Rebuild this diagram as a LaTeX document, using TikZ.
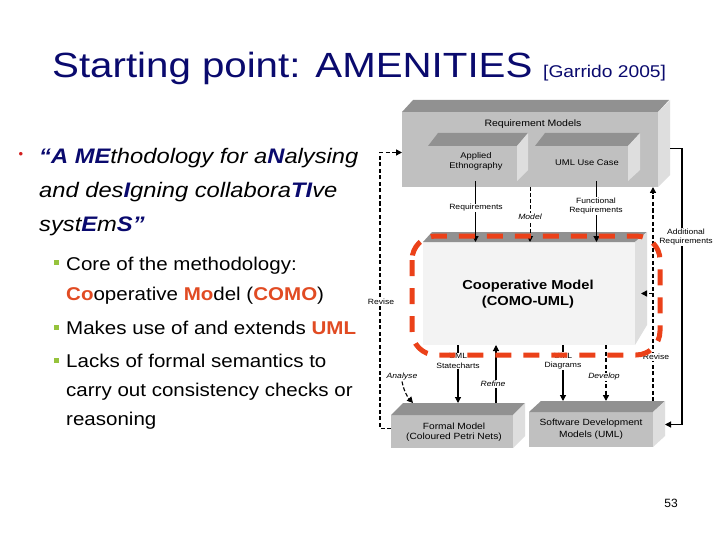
\documentclass[tikz,border=0pt]{standalone}
\usepackage{fontspec}
\setmainfont{Liberation Sans}
\usetikzlibrary{arrows.meta}
\definecolor{navy}{RGB}{10,10,110}
\definecolor{orng}{RGB}{225,75,35}
\definecolor{hired}{RGB}{235,65,25}
\definecolor{bgreen}{RGB}{150,195,60}
\definecolor{bred}{RGB}{210,30,30}
\definecolor{facegray}{RGB}{192,192,192}
\definecolor{topgray}{RGB}{145,145,145}
\definecolor{sidegray}{RGB}{222,222,222}
\definecolor{coopfront}{RGB}{243,243,243}
\newcommand\sx[2][1.13]{\scalebox{#1}[1]{#2}}
\newcommand\nb[1]{{\bfseries\color{navy}#1}}
\newcommand\ob[1]{{\bfseries\color{orng}#1}}
\begin{document}
\begin{tikzpicture}[x=1pt,y=-1pt,
  face/.style={fill=facegray, draw=none, inner sep=0pt, outer sep=0pt, anchor=north west},
  txt/.style={inner sep=0pt, anchor=base west},
  lab/.style={fill=white, inner sep=0.8pt, align=center, font=\fontsize{7.6}{9.5}\selectfont},
  boxt/.style={inner sep=0pt, align=center},
  arr/.style={line width=1.1pt, -{Triangle[length=6pt,width=6pt]}},
  darr/.style={line width=1.6pt, dash pattern=on 4pt off 2.5pt, -{Triangle[length=6pt,width=6pt]}},
  tdarr/.style={line width=0.9pt, dash pattern=on 4pt off 2pt, -{Triangle[length=6pt,width=6pt]}},
  sq/.style={fill=bgreen},
  main/.style={txt, font=\fontsize{21}{25}\selectfont\itshape},
  sub/.style={txt, font=\fontsize{18.5}{22}\selectfont}
]
\useasboundingbox (0,0) rectangle (720,540);
\fill[white] (0,0) rectangle (720,540);

% ---------- title ----------
\node[txt] (title) at (52,78) {\color{navy}\fontsize{35}{40}\selectfont\sx[1.15]{Starting point: AMENITIES}};
\node[txt] (cite) at (543,78) {\color{navy}\fontsize{17}{20}\selectfont\sx{[Garrido 2005]}};

% ---------- left text ----------
\node[inner sep=0pt] (bul) at (21,155) {\color{bred}\fontsize{13}{14}\selectfont •};
\node[main] (l1) at (39,164) {\sx{\nb{“A ME}thodology for a\nb{N}alysing}};
\node[main] (l2) at (39,198) {\sx{and des\nb{I}gning collabora\nb{TI}ve}};
\node[main] (l3) at (39,231) {\sx{syst\nb{E}m\nb{S”}}};

\fill[sq] (53.5,259.5) rectangle ++(5,5);
\node[sub] (s1a) at (66,270) {\sx[1.11]{Core of the methodology:}};
\node[sub] (s1b) at (66,300) {\sx[1.11]{\ob{Co}operative \ob{Mo}del (\ob{COMO})}};
\fill[sq] (53.5,324.5) rectangle ++(5,5);
\node[sub] (s2) at (66,334) {\sx[1.11]{Makes use of and extends \ob{UML}}};
\fill[sq] (53.5,357.5) rectangle ++(5,5);
\node[sub] (s3a) at (66,367) {\sx[1.11]{Lacks of formal semantics to}};
\node[sub] (s3b) at (66,396) {\sx[1.11]{carry out consistency checks or}};
\node[sub] (s3c) at (66,425) {\sx[1.11]{reasoning}};

% ---------- Requirement Models box ----------
\node[face, minimum width=256pt, minimum height=75pt] (rm) at (402,112) {};
\fill[topgray] (rm.north west) -- ++(11,-12) -- ++(256,0) -- (rm.north east) -- cycle;
\fill[sidegray] (rm.north east) -- ++(12,-12) -- ++(0,75) -- (rm.south east) -- cycle;
\node[boxt, font=\fontsize{9.3}{11}\selectfont] (rmt) at (533,124) {\sx{Requirement Models}};

% inner: Applied Ethnography
\node[face, minimum width=89pt, minimum height=35pt] (ae) at (428,146) {};
\fill[topgray] (ae.north west) -- ++(10,-13) -- ++(90,0) -- (ae.north east) -- cycle;
\fill[sidegray] (ae.north east) -- ++(11,-13) -- ++(0,37) -- (ae.south east) -- cycle;
\node[boxt, font=\fontsize{8.3}{10}\selectfont] (aet) at (476,161.5) {\sx{Applied}\\\sx{Ethnography}};

% inner: UML Use Case
\node[face, minimum width=93pt, minimum height=35pt] (uc) at (535,146) {};
\fill[topgray] (uc.north west) -- ++(10,-13) -- ++(95,0) -- (uc.north east) -- cycle;
\fill[sidegray] (uc.north east) -- ++(12,-13) -- ++(0,37) -- (uc.south east) -- cycle;
\node[boxt, font=\fontsize{8.3}{10}\selectfont] (uct) at (587,163) {\sx{UML Use Case}};

% ---------- Cooperative Model box ----------
\node[face, fill=coopfront, minimum width=212pt, minimum height=103pt] (coop) at (423,242) {};
\fill[topgray] (coop.north west) -- ++(9,-10) -- ++(215,0) -- (coop.north east) -- cycle;
\fill[sidegray] (coop.north east) -- ++(12,-10) -- ++(0,93) -- (coop.south east) -- cycle;
\node[boxt, font=\bfseries\fontsize{13}{15.5}\selectfont] (coopt) at (528,294) {\sx{Cooperative Model}\\\sx{(COMO-UML)}};

% ---------- Formal Model box ----------
\node[face, minimum width=122pt, minimum height=33pt] (fm) at (391,415) {};
\fill[topgray] (fm.north west) -- ++(12,-12) -- ++(122,0) -- (fm.north east) -- cycle;
\fill[sidegray] (fm.north east) -- ++(12,-12) -- ++(0,33) -- (fm.south east) -- cycle;
\node[boxt, font=\fontsize{9}{10.5}\selectfont] (fmt) at (454,432) {\sx{Formal Model}\\\sx{(Coloured Petri Nets)}};

% ---------- Software Development box ----------
\node[face, minimum width=124pt, minimum height=35pt] (sw) at (529,412) {};
\fill[topgray] (sw.north west) -- ++(12,-11) -- ++(124,0) -- (sw.north east) -- cycle;
\fill[sidegray] (sw.north east) -- ++(12,-11) -- ++(0,35) -- (sw.south east) -- cycle;
\node[boxt, font=\fontsize{9}{12}\selectfont] (swt) at (591,429) {\sx{Software Development}\\\sx{Models (UML)}};

% ---------- connectors ----------
% Requirements
\draw[arr] ([xshift=3pt]ae.south) -- ([xshift=3pt]ae.south |- coop.north);
\node[lab] (lreq) at (476,208) {\sx{Requirements}};
% Model
\draw[tdarr] (rm.south) -- (rm.south |- coop.north);
\node[lab, font=\fontsize{7.6}{9.5}\selectfont\itshape] (lmod) at (530,217) {\sx{Model}};
% Functional Requirements
\draw[arr] ([xshift=15pt]uc.south) -- ([xshift=15pt]uc.south |- coop.north);
\node[lab] (lfun) at (596,206) {\sx{Functional}\\\sx{Requirements}};
% Additional Requirements
\draw[arr] ([xshift=12pt,yshift=1pt]rm.east) -- ++(12,0) |- ([xshift=12pt,yshift=5pt]sw.east);
\node[lab] (ladd) at (686,237) {\sx{Additional}\\\sx{Requirements}};
% right Revise
\coordinate (rvtop) at ([yshift=11pt]sw.north east);
\draw[darr] (rvtop) -- (rvtop |- rm.south);
\coordinate (rvb) at (rvtop |- coop.east);
\draw[darr] (rvb) -- ([xshift=6pt]coop.east);
% left Revise
\draw[darr] ([yshift=3pt]fm.west) -- ++(-11,0) |- ([yshift=-3pt]rm.west);
\node[lab] (lrev1) at (381,302) {\sx{Revise}};
% Analyse
\node[lab, font=\fontsize{7.6}{9.5}\selectfont\itshape] (lana) at (402,377) {\sx{Analyse}};
\coordinate (anT) at ([xshift=22pt,yshift=12pt]fm.north west);
\draw[tdarr, line width=1.1pt] (lana.south) to[bend right=15] (anT);
% UML Statecharts
\draw[arr] ([xshift=-71pt]coop.south) -- ([xshift=-71pt]coop.south |- anT);
\node[lab] (lsta) at (458,361) {\sx{UML}\\\sx{Statecharts}};
% Refine
\draw[arr] ([xshift=-33pt]coop.south |- anT) -- ([xshift=-33pt]coop.south);
\node[lab, font=\fontsize{7.6}{9.5}\selectfont\itshape] (lref) at (493,384) {\sx{Refine}};
% UML Diagrams
\draw[arr] ([xshift=34pt]coop.south) -- ([xshift=34pt]coop.south |- rvtop);
\node[lab] (ldia) at (563,361) {\sx{UML}\\\sx{Diagrams}};
% Develop
\draw[darr] ([xshift=77pt]coop.south) -- ([xshift=77pt]coop.south |- rvtop);
\node[lab, font=\fontsize{7.6}{9.5}\selectfont\itshape] (ldev) at (604,377) {\sx{Develop}};
% right revise label
\node[lab] (lrev2) at (656,357) {\sx{Revise}};

% ---------- highlight ----------
\draw[hired, line width=5pt, dash pattern=on 16pt off 12pt, rounded corners=24pt] (412,236) rectangle (660,355);

% page number
\node[inner sep=0pt] (pg) at (671,503) {\fontsize{12}{14}\selectfont 53};
\end{tikzpicture}
\end{document}
